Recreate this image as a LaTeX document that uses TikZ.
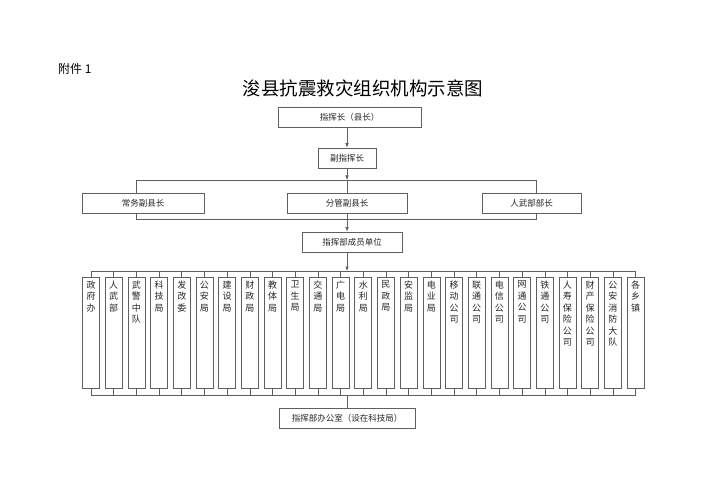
\documentclass[tikz,border=0pt]{standalone}
\usepackage{fontspec}
\setmainfont{Noto Sans CJK SC}
\usetikzlibrary{arrows.meta,positioning}
\definecolor{lineC}{RGB}{95,95,95}

\tikzset{
  box/.style={draw=lineC, line width=0.6pt, fill=white, inner sep=0pt,
    minimum height=20pt, font=\fontsize{8.5}{10}\selectfont, text=black!85},
  unit/.style={draw=lineC, line width=0.6pt, fill=white, inner sep=0pt,
    minimum width=17pt, minimum height=111pt, anchor=north},
  unittxt/.style={inner sep=0pt, anchor=north, align=center,
    font=\fontsize{9}{11.5}\selectfont, text=black!85},
  link/.style={draw=lineC, line width=0.6pt},
  arr/.style={link, -{Latex[length=4.5pt,width=3.5pt]}},
}

\begin{document}
\begin{tikzpicture}[x=1pt,y=-1pt]
  \useasboundingbox (0,0) rectangle (707,500);
  % heading
  \node[anchor=west, inner sep=0pt, font=\fontsize{12}{14}\selectfont] (fj) at (58,69) {附件 1};
  \node[inner sep=0pt, font=\fontsize{18.5}{22}\selectfont] (title) at (363,88.5) {浚县抗震救灾组织机构示意图};
  % command chain
  \node[box, minimum width=143pt] (zhz) at (349.5,117.5) {指挥长（县长）};
  \node[box, minimum width=58pt] (fzh) at (347,158) {副指挥长};
  \node[box, minimum width=122pt] (cw) at (143,203) {常务副县长};
  \node[box, minimum width=120pt] (fg) at (347,203) {分管副县长};
  \node[box, minimum width=99pt] (rw) at (531.5,203) {人武部部长};
  \node[box, minimum width=100pt] (cy) at (352,242) {指挥部成员单位};
  \node[box, minimum width=136pt] (bgs) at (347,418) {指挥部办公室（设在科技局）};
  \coordinate (lT) at (136,180);
  \coordinate (rT) at (536,180);
  \coordinate (lB) at (136,219);
  \coordinate (rB) at (536,219);
  \coordinate (busT) at (347,180);
  \coordinate (busB) at (347,219);
  \coordinate (colT) at (347,271);
  \coordinate (colB) at (347,395);
  \draw[arr] (zhz.south -| fzh) -- (fzh.north);
  \draw[arr] (fzh.south) -- (busT);
  \draw[link] (lT |- cw.north) -- (lT) -- (rT) -- (rT |- rw.north);
  \draw[link] (lB |- cw.south) -- (lB) -- (rB) -- (rB |- rw.south);
  \draw[link] (busT) -- (fg.north);
  \draw[link] (fg.south) -- (busB);
  \draw[arr] (busB) -- (busB |- cy.north);
  \draw[arr] (busB |- cy.south) -- (colT);
  % member units
  \foreach \lbl [count=\i] in {政\\府\\办,人\\武\\部,武\\警\\中\\队,科\\技\\局,发\\改\\委,公\\安\\局,建\\设\\局,财\\政\\局,教\\体\\局,卫\\生\\局,交\\通\\局,广\\电\\局,水\\利\\局,民\\政\\局,安\\监\\局,电\\业\\局,移\\动\\公\\司,联\\通\\公\\司,电\\信\\公\\司,网\\通\\公\\司,铁\\通\\公\\司,人\\寿\\保\\险\\公\\司,财\\产\\保\\险\\公\\司,公\\安\\消\\防\\大\\队,各\\乡\\镇}{
    \node[unit] (u\i) at ({91+(\i-1)*22.69},277) {};
    \node[unittxt] (t\i) at ([yshift=-3.5pt]u\i.north) {\lbl};
    \draw[link] (u\i.north) -- (u\i.north |- colT);
    \draw[link] (u\i.south) -- (u\i.south |- colB);
  }
  \draw[link] (u1.north |- colT) -- (u25.north |- colT);
  \draw[link] (u1.south |- colB) -- (u25.south |- colB);
  \draw[link] (colB) -- (bgs.north);
\end{tikzpicture}
\end{document}
